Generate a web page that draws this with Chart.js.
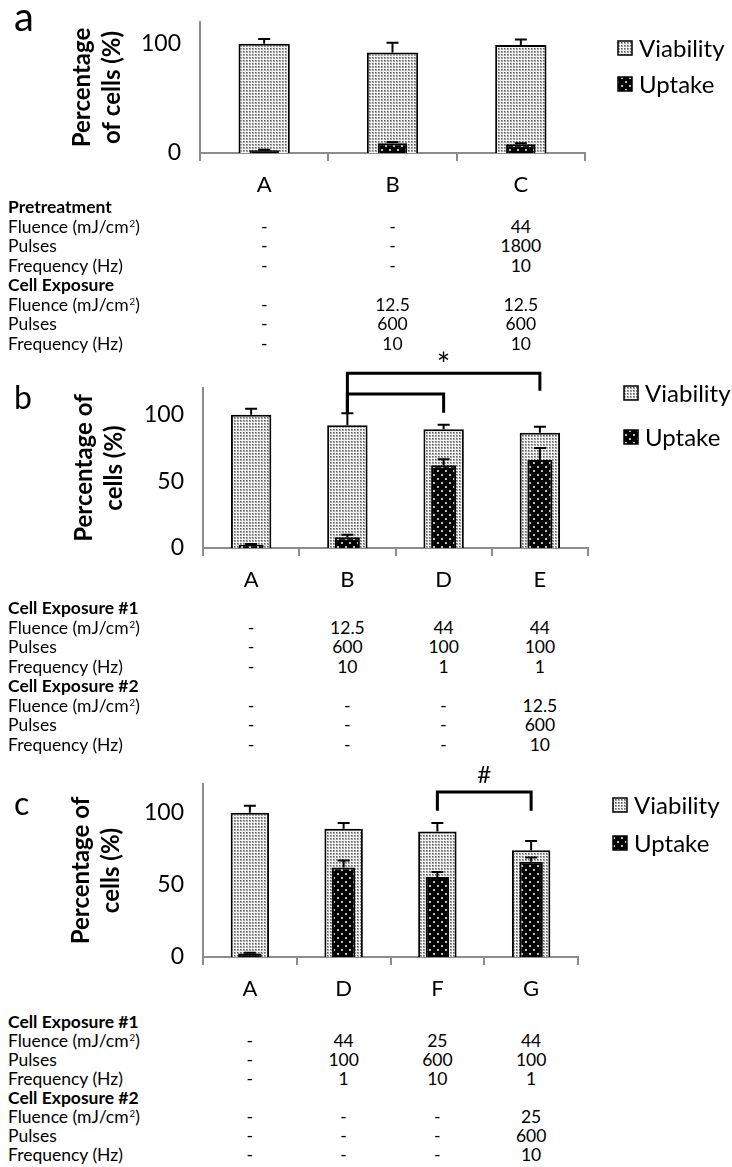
<!DOCTYPE html>
<html>
<head>
<meta charset="utf-8">
<script src="https://cdn.jsdelivr.net/npm/chart.js@4.4.0/dist/chart.umd.min.js"></script>
<style>
  body { margin: 0; background: #fff; font-family: Lato, sans-serif; color: #000; }
  #page { position: relative; width: 732px; height: 1167px; overflow: hidden; }
  canvas { position: absolute; left: 0; }
  .letter { position: absolute; left: 14px; line-height: 1; }
  .cell { position: absolute; font-size: 17.5px; line-height: 20px; white-space: nowrap; }
  .val { transform: translateX(-50%); }
  .bold { font-weight: bold; }
  sup { font-size: 0.55em; line-height: 0; vertical-align: 0.6em; margin-left: 1px; }
</style>
</head>
<body>
<div id="page">
  <canvas id="chartA"></canvas>
  <canvas id="chartB"></canvas>
  <canvas id="chartC"></canvas>
  <div class="letter" style="top:-4px;font-size:40px;">a</div>
  <div class="letter" style="top:381px;font-size:32px;">b</div>
  <div class="letter" style="top:787px;font-size:32px;">c</div>
</div>
<script>
// ---- panel a ----
var catsA = ['A', 'B', 'C'];
var viabA = [100, 92, 99];
var viabErrA = [4.5, 9, 5];
var uptA = [2.5, 9, 8];
var uptErrA = [0.5, 1, 1];

// ---- panel b ----
var catsB = ['A', 'B', 'D', 'E'];
var viabB = [100, 92, 89, 86.5];
var viabErrB = [4.5, 9, 3.5, 4.5];
var uptB = [2.5, 8, 62, 66];
var uptErrB = [0.5, 2, 4.5, 9];

// ---- panel c ----
var catsC = ['A', 'D', 'F', 'G'];
var viabC = [100, 89, 87, 74];
var viabErrC = [5, 4, 6, 6.5];
var uptC = [2.5, 62, 55.5, 66];
var uptErrC = [0.5, 5, 3.5, 3];

var yTicksA = [0, 100];
var yTicksBC = [0, 50, 100];

// significance brackets (category index, values in %)
var bracketsB = [
  { from: 1, to: 3, top: 131, fromEnd: 101.5, toEnd: 118 },
  { from: 1, to: 2, top: 115.5, fromEnd: 101.5, toEnd: 101.5 }
];
var markB = { from: 1, to: 3, value: 136.5, text: '*' };
var bracketsC = [
  { from: 2, to: 3, top: 114.5, fromEnd: 101.5, toEnd: 101.5 }
];
var markC = { from: 2, to: 3, value: 126, text: '#' };

// ---- tables ----
var FLU = 'Fluence (mJ/cm<sup>2</sup>)';
var rowsA = ['Pretreatment', FLU, 'Pulses', 'Frequency (Hz)', 'Cell Exposure', FLU, 'Pulses', 'Frequency (Hz)'];
var rowsBC = ['Cell Exposure #1', FLU, 'Pulses', 'Frequency (Hz)', 'Cell Exposure #2', FLU, 'Pulses', 'Frequency (Hz)'];
var boldRows = [0, 4];
var tableA = [
  ['', '-', '-', '-', '', '-', '-', '-'],
  ['', '-', '-', '-', '', '12.5', '600', '10'],
  ['', '44', '1800', '10', '', '12.5', '600', '10']
];
var tableB = [
  ['', '-', '-', '-', '', '-', '-', '-'],
  ['', '12.5', '600', '10', '', '-', '-', '-'],
  ['', '44', '100', '1', '', '-', '-', '-'],
  ['', '44', '100', '1', '', '12.5', '600', '10']
];
var tableC = [
  ['', '-', '-', '-', '', '-', '-', '-'],
  ['', '44', '100', '1', '', '-', '-', '-'],
  ['', '25', '600', '10', '', '-', '-', '-'],
  ['', '44', '100', '1', '', '25', '600', '10']
];

function makePattern(size, bg, dots) {
  var c = document.createElement('canvas');
  c.width = size; c.height = size;
  var g = c.getContext('2d');
  g.fillStyle = bg;
  g.fillRect(0, 0, size, size);
  dots.forEach(function (d) {
    g.fillStyle = d[4];
    g.fillRect(d[0], d[1], d[2], d[3]);
  });
  return g.createPattern(c, 'repeat');
}

var viabFill = makePattern(3, '#f4f4f4', [[0, 0, 2, 2, '#a0a0a0'], [0, 0, 1, 1, '#606060']]);
var uptFill = makePattern(8, '#000', [[1, 1, 2, 2, '#bdbdbd'], [5, 5, 2, 2, '#bdbdbd']]);

var errorBars = {
  id: 'errorBars',
  afterDatasetsDraw: function (chart) {
    var ctx = chart.ctx, y = chart.scales.y;
    ctx.save();
    ctx.strokeStyle = '#000';
    ctx.lineWidth = 2;
    chart.data.datasets.forEach(function (ds, i) {
      chart.getDatasetMeta(i).data.forEach(function (bar, j) {
        var top = y.getPixelForValue(ds.data[j] + ds.errors[j]);
        ctx.beginPath();
        ctx.moveTo(bar.x, bar.y);
        ctx.lineTo(bar.x, top);
        ctx.moveTo(bar.x - 6, top);
        ctx.lineTo(bar.x + 6, top);
        ctx.stroke();
      });
    });
    ctx.restore();
  }
};

var brackets = {
  id: 'brackets',
  afterDraw: function (chart, args, o) {
    var ctx = chart.ctx, x = chart.scales.x, y = chart.scales.y;
    ctx.save();
    ctx.strokeStyle = '#000';
    ctx.lineWidth = 3;
    (o.lines || []).forEach(function (b) {
      var x1 = x.getPixelForValue(b.from), x2 = x.getPixelForValue(b.to), yt = y.getPixelForValue(b.top);
      ctx.beginPath();
      ctx.moveTo(x1, y.getPixelForValue(b.fromEnd));
      ctx.lineTo(x1, yt);
      ctx.lineTo(x2, yt);
      ctx.lineTo(x2, y.getPixelForValue(b.toEnd));
      ctx.stroke();
    });
    if (o.mark) {
      var m = o.mark;
      ctx.fillStyle = '#000';
      ctx.font = (m.text === '*' ? '32px' : '24px') + ' Lato';
      ctx.textAlign = 'center';
      ctx.textBaseline = 'middle';
      ctx.fillText(m.text, (x.getPixelForValue(m.from) + x.getPixelForValue(m.to)) / 2, y.getPixelForValue(m.value));
    }
    ctx.restore();
  }
};

var sideLegend = {
  id: 'sideLegend',
  afterDraw: function (chart, args, o) {
    var ctx = chart.ctx, a = chart.chartArea;
    ctx.save();
    chart.data.datasets.forEach(function (ds, i) {
      var cy = a.top + o.rows[i], bx = a.right + o.dx;
      ctx.fillStyle = ds.backgroundColor;
      ctx.fillRect(bx, cy - 7, 14, 14);
      ctx.strokeStyle = '#000';
      ctx.lineWidth = 1.5;
      ctx.strokeRect(bx, cy - 7, 14, 14);
      ctx.fillStyle = '#000';
      ctx.font = '24px Lato';
      ctx.textBaseline = 'middle';
      ctx.fillText(ds.label, bx + 21, cy + 1);
    });
    ctx.restore();
  }
};

function makePanel(id, cats, viab, viabErr, upt, uptErr, yTicks, p) {
  var cv = document.getElementById(id);
  cv.width = 732; cv.height = p.height;
  cv.style.top = p.top + 'px';
  var chart = new Chart(cv, {
    type: 'bar',
    data: {
      labels: cats,
      datasets: [{
        label: 'Viability',
        data: viab,
        errors: viabErr,
        backgroundColor: viabFill,
        borderColor: '#000',
        borderWidth: 2,
        barPercentage: p.wide,
        categoryPercentage: 1,
        grouped: false,
        order: 2
      }, {
        label: 'Uptake',
        data: upt,
        errors: uptErr,
        backgroundColor: uptFill,
        borderColor: '#000',
        borderWidth: 2,
        barPercentage: p.narrow,
        categoryPercentage: 1,
        grouped: false,
        order: 1
      }]
    },
    options: {
      responsive: false,
      animation: false,
      layout: { padding: { top: p.padTop, right: 732 - p.right, left: 0, bottom: 0 } },
      plugins: {
        legend: { display: false },
        tooltip: { enabled: false },
        brackets: { lines: p.brackets, mark: p.mark },
        sideLegend: { dx: p.legendDx, rows: p.legendRows }
      },
      scales: {
        x: {
          offset: true,
          grid: { display: true, drawOnChartArea: false, drawTicks: true, tickLength: 8, color: '#8c8c8c', lineWidth: 2, offset: true },
          border: { display: true, color: '#8c8c8c', width: 2 },
          ticks: { font: { family: 'Lato', size: 22 }, color: '#000', padding: 11 },
          afterFit: function (s) { s.height = 50; }
        },
        y: {
          min: 0,
          max: 120,
          afterBuildTicks: function (s) { s.ticks = yTicks.map(function (v) { return { value: v }; }); },
          grid: { display: false, drawTicks: false },
          border: { display: true, color: '#8c8c8c', width: 2 },
          ticks: { font: { family: 'Lato', size: 23 }, color: '#000', padding: 19 },
          title: {
            display: true,
            text: p.yTitle,
            color: '#000',
            font: { family: 'Lato', size: 24, weight: 'bold', lineHeight: 1.22 },
            padding: { top: p.titlePad, bottom: 0 }
          },
          afterFit: function (s) {
            s.width = p.left;
            s.paddingTop = 0;
            s.paddingBottom = 0;
          }
        }
      }
    },
    plugins: [errorBars, brackets, sideLegend]
  });
  return chart;
}

function makeTable(chart, rows, cols, y0, step) {
  var page = document.getElementById('page');
  rows.forEach(function (r, i) {
    var d = document.createElement('div');
    d.className = 'cell' + (boldRows.indexOf(i) >= 0 ? ' bold' : '');
    d.style.left = '8px';
    d.style.top = (y0 + i * step - 10) + 'px';
    d.innerHTML = r;
    page.appendChild(d);
  });
  cols.forEach(function (col, j) {
    var cx = chart.scales.x.getPixelForValue(j);
    col.forEach(function (v, i) {
      if (!v) return;
      var d = document.createElement('div');
      d.className = 'cell val';
      d.style.left = cx + 'px';
      d.style.top = (y0 + i * step - 10) + 'px';
      d.textContent = v;
      page.appendChild(d);
    });
  });
}

var chartA = makePanel('chartA', catsA, viabA, viabErrA, uptA, uptErrA, yTicksA, {
  top: 0, height: 203, padTop: 22, left: 200, right: 585, wide: 0.4, narrow: 0.23,
  yTitle: ['Percentage', 'of cells (%)'], titlePad: 68,
  legendDx: 33, legendRows: [26, 62], brackets: [], mark: null
});
var chartB = makePanel('chartB', catsB, viabB, viabErrB, uptB, uptErrB, yTicksBC, {
  top: 345, height: 253, padTop: 43, left: 203, right: 588, wide: 0.42, narrow: 0.26,
  yTitle: ['Percentage of', 'cells (%)'], titlePad: 70,
  legendDx: 36, legendRows: [5, 49], brackets: bracketsB, mark: markB
});
var chartC = makePanel('chartC', catsC, viabC, viabErrC, uptC, uptErrC, yTicksBC, {
  top: 760, height: 247, padTop: 24, left: 203, right: 578, wide: 0.41, narrow: 0.25,
  yTitle: ['Percentage of', 'cells (%)'], titlePad: 67,
  legendDx: 35, legendRows: [21, 59], brackets: bracketsC, mark: markC
});

makeTable(chartA, rowsA, tableA, 207, 19.5);
makeTable(chartB, rowsBC, tableB, 608, 19.5);
makeTable(chartC, rowsBC, tableC, 1022, 19);
</script>
</body>
</html>
